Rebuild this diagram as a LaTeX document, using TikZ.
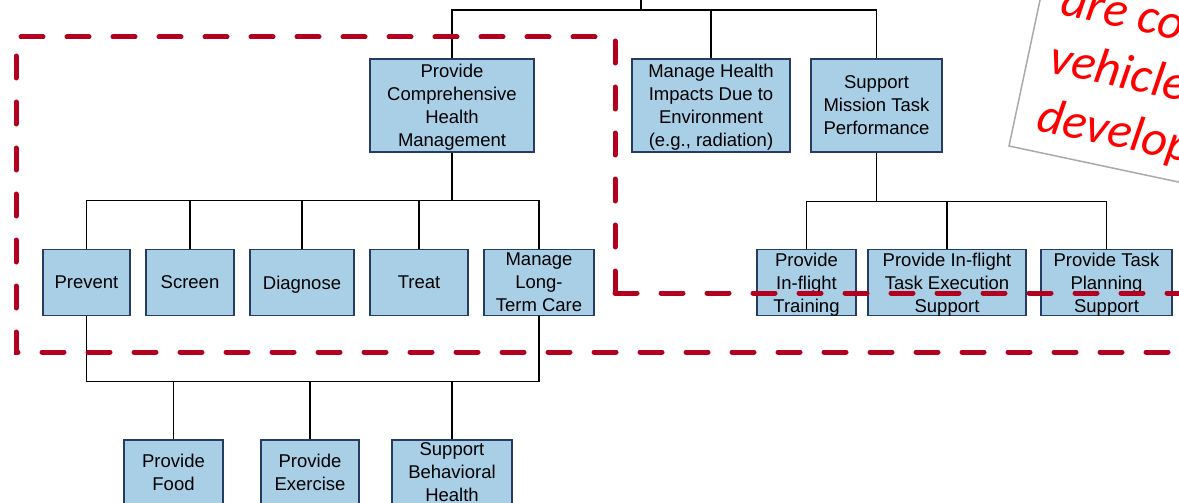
\documentclass[tikz,border=0pt]{standalone}
\usepackage{fontspec}
\setmainfont{Liberation Sans}
\newfontfamily\notefont{Carlito}
\definecolor{BoxBlue}{RGB}{168,207,229}
\definecolor{BoxEdge}{RGB}{38,60,100}
\definecolor{ScopeRed}{RGB}{178,0,30}
\definecolor{NoteRed}{RGB}{255,0,0}
\definecolor{NoteGray}{RGB}{170,170,170}
\tikzset{
  funcbox/.style={draw=BoxEdge, line width=1.5pt, fill=BoxBlue, align=center, inner sep=0pt,
    text depth=-8pt, font=\fontsize{18.5}{23}\selectfont},
  link/.style={line width=1.4pt, black},
  scopeline/.style={draw=ScopeRed, line width=5pt, line cap=round, dash pattern=on 22pt off 24pt},
  notetext/.style={text=NoteRed, anchor=base west, inner sep=0pt,
    font=\notefont\itshape\fontsize{50}{59}\selectfont}
}

\begin{document}
\begin{tikzpicture}[x=1pt,y=-1pt]
    \useasboundingbox (0,0) rectangle (1179,503);
    \fill[white] (0,0) rectangle (1179,503);
    \clip (0,0) rectangle (1179,503);

    \coordinate (root) at (641,-40);

    \node[funcbox, minimum width=164, minimum height=93] (pchm) at (452,105.5) {Provide\\Comprehensive\\Health\\Management};
    \node[funcbox, minimum width=158, minimum height=93] (mhi) at (711,105.5) {Manage Health\\Impacts Due to\\Environment\\(e.g., radiation)};
    \node[funcbox, minimum width=131, minimum height=93] (smtp) at (876.5,105.5) {Support\\Mission Task\\Performance};

    \node[funcbox, minimum width=87, minimum height=66] (prevent) at (86.5,282.5) {Prevent};
    \node[funcbox, minimum width=88, minimum height=66] (screen) at (190,282.5) {Screen};
    \node[funcbox, minimum width=104, minimum height=66] (diagnose) at (302,282.5) {Diagnose};
    \node[funcbox, minimum width=98, minimum height=66] (treat) at (419,282.5) {Treat};
    \node[funcbox, minimum width=110, minimum height=66] (mltc) at (539,282.5) {Manage\\Long-\\Term Care};
    \node[funcbox, minimum width=99, minimum height=66] (training) at (806.5,282.5) {Provide\\In-flight\\Training};
    \node[funcbox, minimum width=158, minimum height=66] (taskexec) at (947,282.5) {Provide In-flight\\Task Execution\\Support};
    \node[funcbox, minimum width=131, minimum height=66] (taskplan) at (1106.5,282.5) {Provide Task\\Planning\\Support};

    \node[funcbox, minimum width=99, minimum height=65] (food) at (173.5,472.5) {Provide\\Food};
    \node[funcbox, minimum width=98, minimum height=65] (exercise) at (310,472.5) {Provide\\Exercise};
    \node[funcbox, minimum width=120, minimum height=65] (behav) at (452,472.5) {Support\\Behavioral\\Health};

    \foreach \c in {pchm,mhi,smtp}
      \draw[link] (root) -- ++(0,50) -| (\c.north);
    \foreach \c in {prevent,screen,diagnose,treat,mltc}
      \draw[link] (pchm.south) -- ++(0,48) -| (\c.north);
    \foreach \c in {training,taskexec,taskplan}
      \draw[link] (smtp.south) -- ++(0,49) -| (\c.north);
    \draw[link] (prevent.south) -- ++(0,65) -| (mltc.south);
    \foreach \c in {food,exercise,behav}
      \draw[link] (prevent.south) ++(0,65) -| (\c.north);

    \draw[scopeline] (615,293) -- (615,37) -- (16,37) -- (16,352) -- (1200,352);
    \draw[scopeline] (615,293) -- (1200,293);

    \begin{scope}[shift={(1009,146)}, rotate=-12, transform shape]
      \draw[NoteGray, line width=1.5pt] (0,0) rectangle (420,-260);
      \node[notetext] (line1) at (22,-139) {are co};
      \node[notetext] (line2) at (22,-80) {vehicle};
      \node[notetext] (line3) at (22,-21) {develop};
    \end{scope}
  \end{tikzpicture}
\end{document}
